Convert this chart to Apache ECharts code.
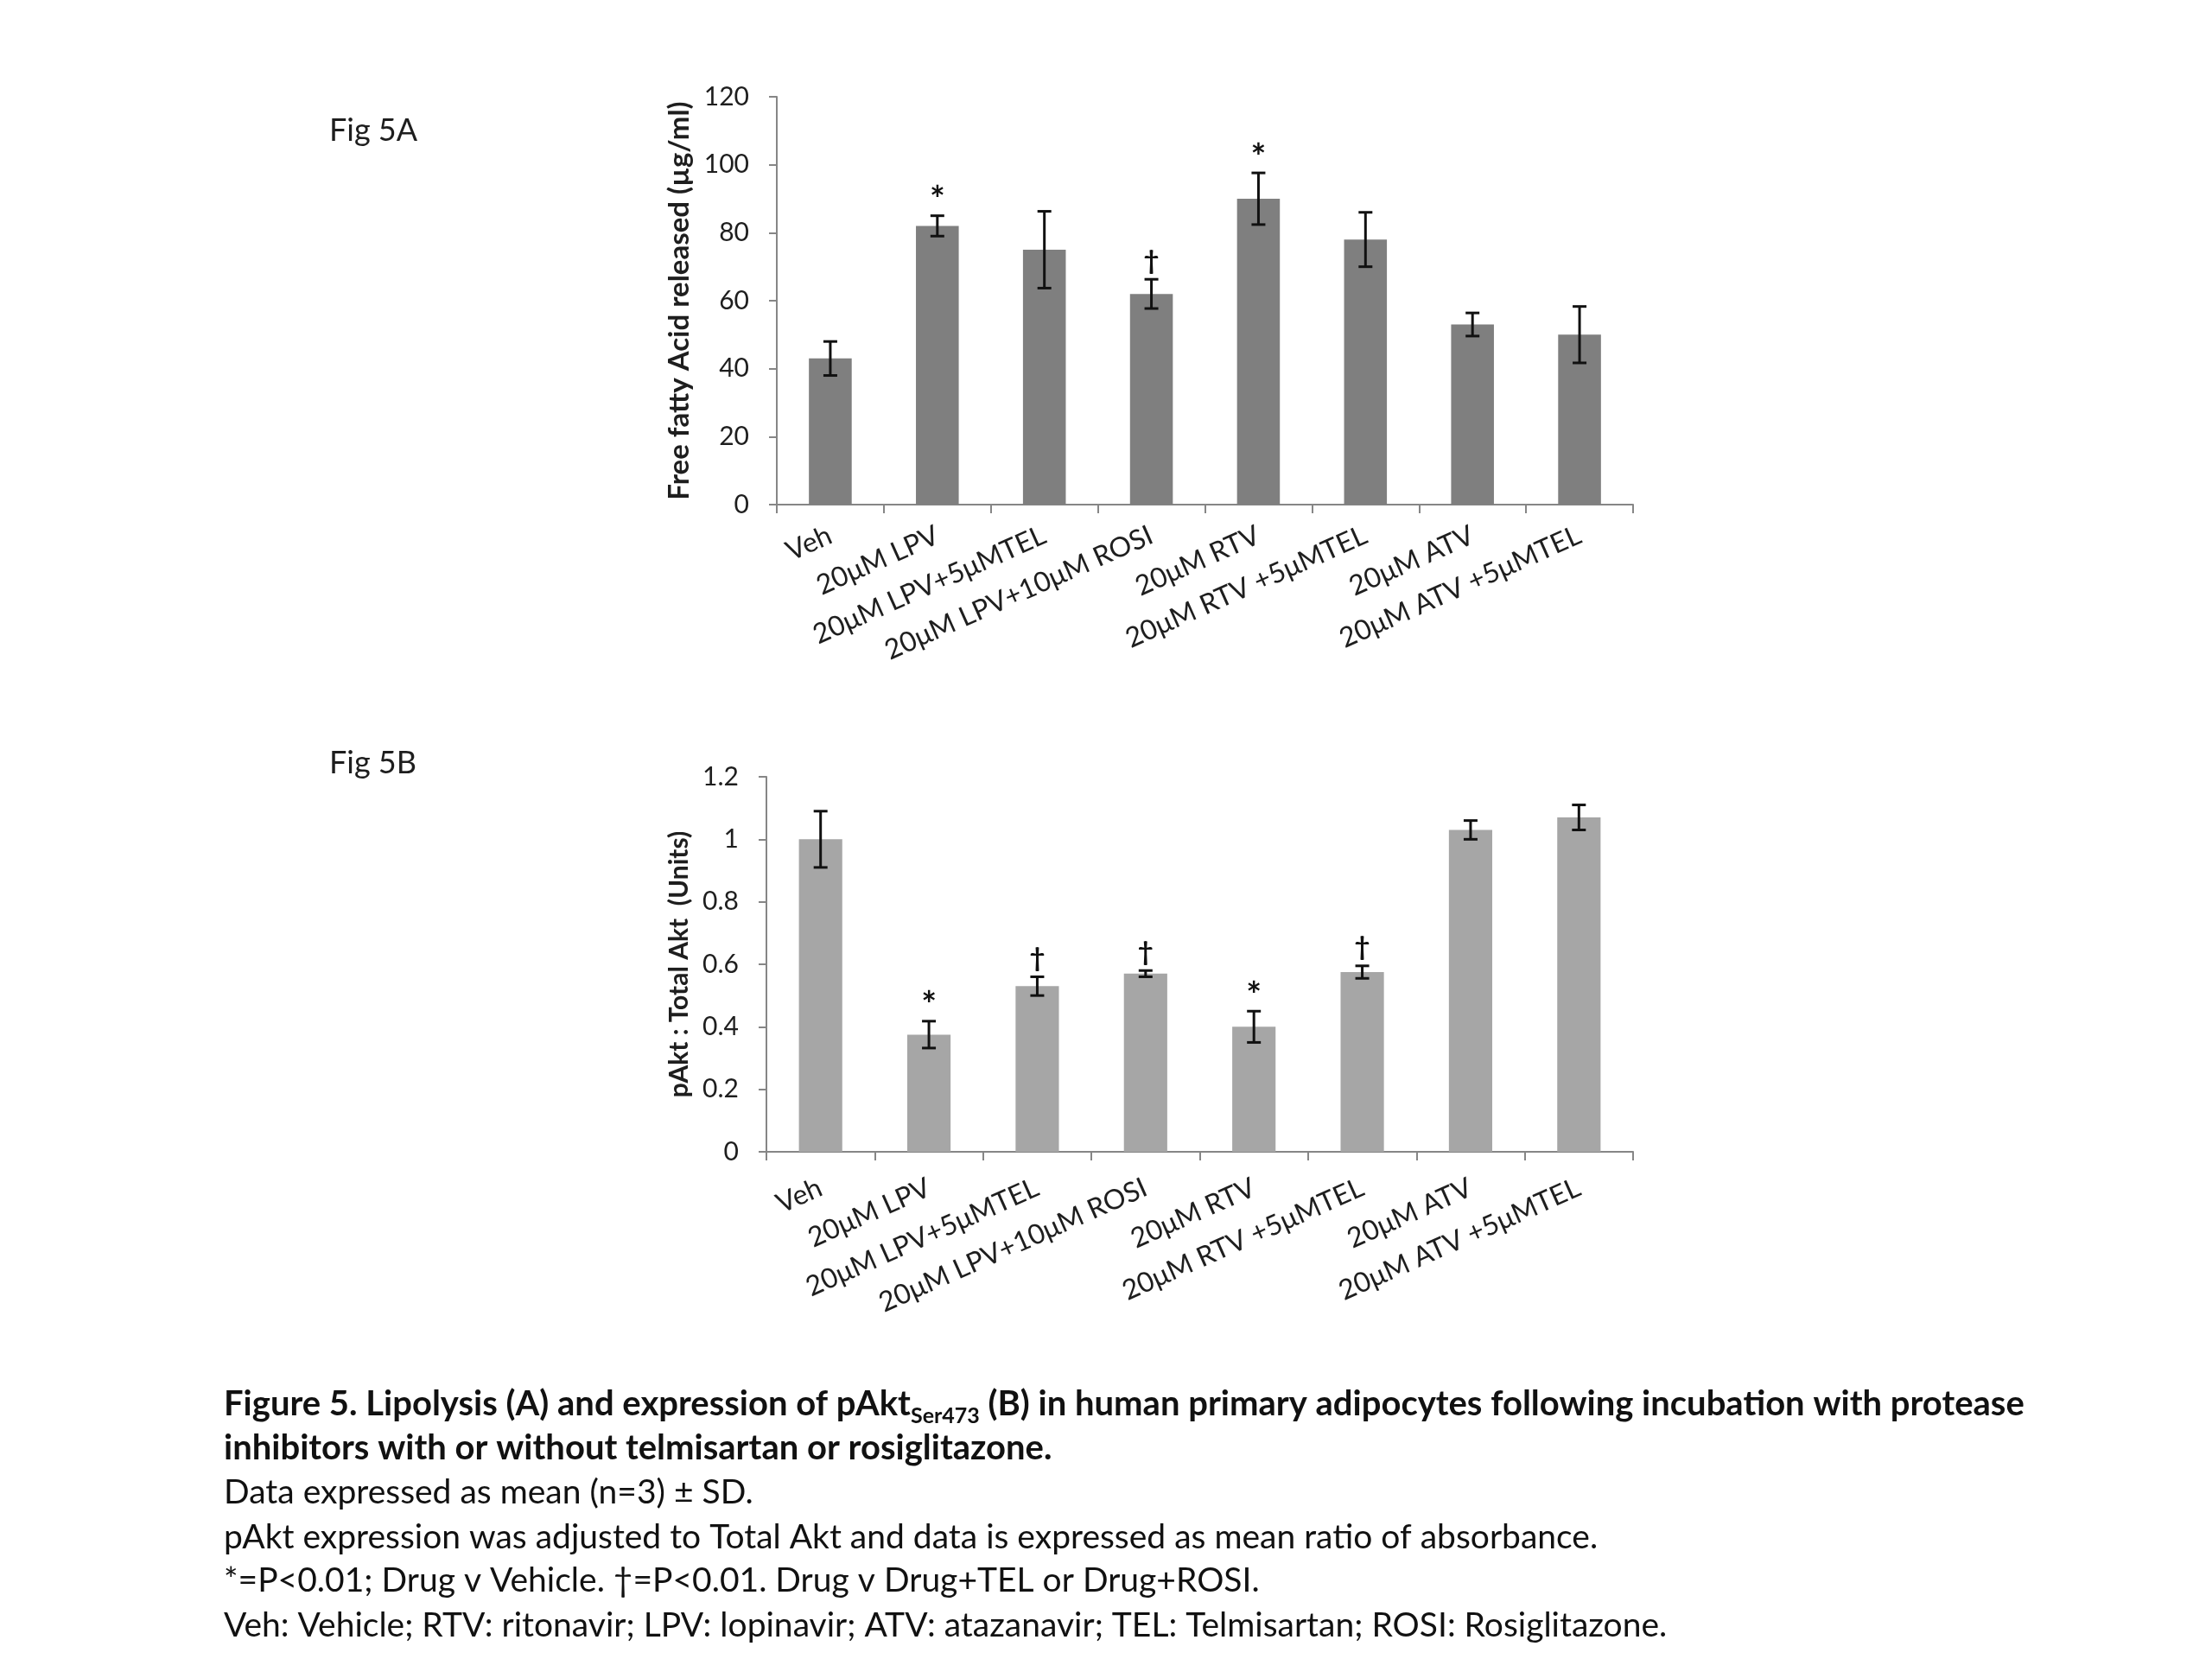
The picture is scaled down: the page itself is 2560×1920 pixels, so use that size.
<!DOCTYPE html>
<html><head><meta charset="utf-8">
<script src="https://cdn.jsdelivr.net/npm/echarts@6/dist/echarts.min.js"></script>
<style>html,body{margin:0;padding:0;background:#fff}#c{width:2560px;height:1920px}</style>
</head><body><div id="c"></div>
<script>
const categories = ['Veh','20μM LPV','20μM LPV+5μMTEL','20μM LPV+10μM ROSI','20μM RTV','20μM RTV +5μMTEL','20μM ATV','20μM ATV +5μMTEL'];
const ffaMean = [43, 82, 75, 62, 90, 78, 53, 50];
const ffaSD = [5, 3, 11.3, 4.3, 7.6, 8, 3.4, 8.3];
const ffaMarks = ['', '*', '', '†', '*', '', '', ''];
const ffaTicks = [0, 20, 40, 60, 80, 100, 120];
const aktMean = [1.0, 0.375, 0.53, 0.57, 0.40, 0.575, 1.03, 1.07];
const aktSD = [0.09, 0.043, 0.03, 0.01, 0.05, 0.02, 0.03, 0.04];
const aktMarks = ['', '*', '†', '†', '*', '†', '', ''];
const aktTicks = [0, 0.2, 0.4, 0.6, 0.8, 1, 1.2];
const panelLabels = ['Fig 5A', 'Fig 5B'];
const captionBold = [
  '{b|Figure 5. Lipolysis (A) and expression of pAkt}{s|Ser473}{b| (B) in human primary adipocytes following incubation with protease}',
  'inhibitors with or without telmisartan or rosiglitazone.'
];
const captionPlain = [
  'Data expressed as mean (n=3) ± SD.',
  'pAkt expression was adjusted to Total Akt and data is expressed as mean ratio of absorbance.',
  '*=P<0.01; Drug v Vehicle. †=P<0.01. Drug v Drug+TEL or Drug+ROSI.',
  'Veh: Vehicle; RTV: ritonavir; LPV: lopinavir; ATV: atazanavir; TEL: Telmisartan; ROSI: Rosiglitazone.'
];

const FONT = 'Lato';
const axisColor = '#868686';
const textColor = '#1e1e1e';

function errRender(mean, sd, marks) {
  return function (params, api) {
    const i = params.dataIndex;
    const top = api.coord([i, mean[i] + sd[i]]);
    const bot = api.coord([i, mean[i] - sd[i]]);
    const cap = 8;
    const style = { stroke: '#111', lineWidth: 3 };
    const children = [
      { type: 'line', shape: { x1: top[0], y1: top[1], x2: bot[0], y2: bot[1] }, style },
      { type: 'line', shape: { x1: top[0] - cap, y1: top[1], x2: top[0] + cap, y2: top[1] }, style },
      { type: 'line', shape: { x1: bot[0] - cap, y1: bot[1], x2: bot[0] + cap, y2: bot[1] }, style }
    ];
    const m = marks[i];
    if (m) {
      const isStar = m === '*';
      children.push({ type: 'text', x: top[0], y: top[1] - (isStar ? -4 : 6),
        style: { text: m, fill: '#111', font: 'bold ' + (isStar ? 42 : 31) + 'px ' + FONT, align: 'center', verticalAlign: 'bottom' } });
    }
    return { type: 'group', children };
  };
}

function xAxisDef(gridIndex, margin) {
  return {
    type: 'category', gridIndex, data: categories, boundaryGap: true,
    axisLine: { lineStyle: { color: axisColor, width: 2 } },
    axisTick: { show: true, alignWithLabel: false, interval: 0, length: 10, lineStyle: { color: axisColor, width: 2 } },
    axisLabel: { interval: 0, rotate: 24, margin, fontFamily: FONT, fontSize: 32, color: textColor }
  };
}
function yAxisDef(gridIndex, ticks, name, nameSize, nameGap) {
  return {
    type: 'value', gridIndex, min: ticks[0], max: ticks[ticks.length - 1], interval: ticks[1] - ticks[0],
    name, nameLocation: 'middle', nameGap, nameRotate: 90,
    nameTextStyle: { fontFamily: FONT, fontWeight: 'bold', fontSize: nameSize, color: textColor },
    splitLine: { show: false },
    axisLine: { show: true, lineStyle: { color: axisColor, width: 2 } },
    axisTick: { show: true, length: 9, lineStyle: { color: axisColor, width: 2 } },
    axisLabel: { margin: 32, fontFamily: FONT, fontSize: 30, color: textColor }
  };
}

const graphic = [
  { type: 'text', left: 381, top: 151 - 18, style: { text: panelLabels[0], font: '36px ' + FONT, fill: textColor } },
  { type: 'text', left: 381, top: 886 - 21, style: { text: panelLabels[1], font: '36px ' + FONT, fill: textColor } },
  { type: 'text', x: 259, y: 1625, style: { text: captionBold[0], fill: '#111', verticalAlign: 'middle',
      rich: { b: { fontFamily: FONT, fontWeight: 'bold', fontSize: 40, lineHeight: 52, fill: '#111' },
              s: { fontFamily: FONT, fontWeight: 'bold', fontSize: 25, lineHeight: 28, fill: '#111', verticalAlign: 'bottom' } } } },
  { type: 'text', x: 259, y: 1676, style: { text: captionBold[1], font: 'bold 40px ' + FONT, fill: '#111', verticalAlign: 'middle' } }
];
const plainY = [1727, 1779, 1829, 1881];
captionPlain.forEach((t, k) => graphic.push({ type: 'text', x: 259, y: plainY[k],
  style: { text: t, font: '39px ' + FONT, fill: '#111', verticalAlign: 'middle' } }));

const chart = echarts.init(document.getElementById('c'));
chart.setOption({
  backgroundColor: '#fff',
  animation: false,
  grid: [
    { left: 899, top: 112, width: 991, height: 472 },
    { left: 887, top: 899, width: 1003, height: 434 }
  ],
  xAxis: [xAxisDef(0, 34), xAxisDef(1, 40)],
  yAxis: [
    yAxisDef(0, ffaTicks, 'Free fatty Acid released (µg/ml)', 33, 96),
    yAxisDef(1, aktTicks, 'pAkt : Total Akt  (Units)', 30, 86)
  ],
  series: [
    { type: 'bar', xAxisIndex: 0, yAxisIndex: 0, data: ffaMean, barWidth: '40%', itemStyle: { color: '#7f7f7f' } },
    { type: 'custom', xAxisIndex: 0, yAxisIndex: 0, renderItem: errRender(ffaMean, ffaSD, ffaMarks),
      data: ffaMean.map((m, i) => [i, m + ffaSD[i], m - ffaSD[i]]), encode: { x: 0, y: [1, 2] }, z: 5 },
    { type: 'bar', xAxisIndex: 1, yAxisIndex: 1, data: aktMean, barWidth: '40%', itemStyle: { color: '#a6a6a6' } },
    { type: 'custom', xAxisIndex: 1, yAxisIndex: 1, renderItem: errRender(aktMean, aktSD, aktMarks),
      data: aktMean.map((m, i) => [i, m + aktSD[i], m - aktSD[i]]), encode: { x: 0, y: [1, 2] }, z: 5 }
  ],
  graphic
});
</script></body></html>
